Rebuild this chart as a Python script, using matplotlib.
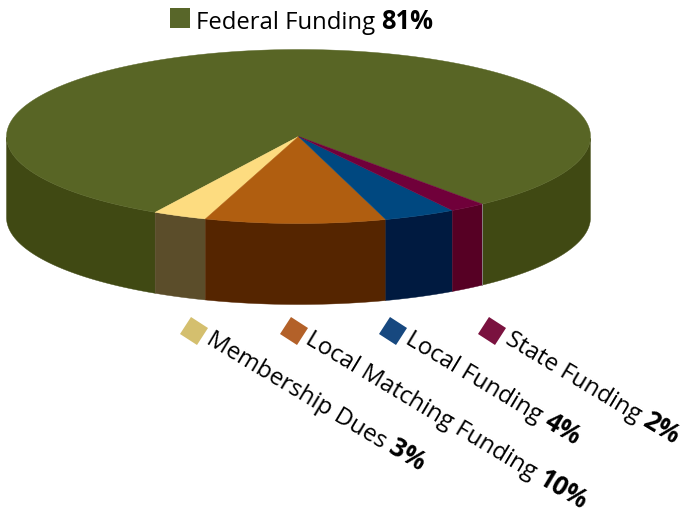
import numpy as np
import matplotlib
matplotlib.use("Agg")
import matplotlib.pyplot as plt
from matplotlib.markers import MarkerStyle
from matplotlib.transforms import Affine2D

plt.rcParams['font.family'] = ['Open Sans', 'DejaVu Sans']

# slices, going counter clockwise from the right hand edge of the federal part
names = ["Federal Funding", "Membership Dues", "Local Matching Funding", "Local Funding", "State Funding"]
shares = [81, 3, 10, 4, 2]
top_colors = ["#586525", "#fddc80", "#b05e10", "#004880", "#70003a"]
side_colors = ["#404913", "#5b4d2a", "#552500", "#001a40", "#560024"]
legend_colors = ["#586629", "#d4bf6e", "#b36129", "#17487f", "#7a123f"]

# pie shape in pixels
cx, cy = 298.5, 136.5
rx, ry = 292, 87
depth = 81
start_angle = -51.0

fig = plt.figure(figsize=(6.82, 5.08), dpi=100)
ax = fig.add_axes([0, 0, 1, 1])
ax.set_xlim(0, 682)
ax.set_ylim(508, 0)
ax.axis("off")


def rim(a, b):
    t = np.radians(np.linspace(a, b, 200))
    return cx + rx * np.cos(t), cy - ry * np.sin(t)


angle = start_angle
for i in range(len(shares)):
    next_angle = angle + shares[i] * 3.6
    x, y = rim(angle, next_angle)

    # side wall, only the front half of the rim shows
    front = np.sin(np.radians(np.linspace(angle, next_angle, 200))) <= 0
    pieces = np.split(np.arange(200), np.where(np.diff(front.astype(int)) != 0)[0] + 1)
    for p in pieces:
        if front[p[0]]:
            wx = np.concatenate([x[p], x[p][::-1]])
            wy = np.concatenate([y[p], y[p][::-1] + depth])
            ax.fill(wx, wy, color=side_colors[i], lw=0.3, zorder=1)

    ax.fill(np.concatenate([[cx], x]), np.concatenate([[cy], y]), color=top_colors[i], lw=0.3, zorder=2)
    angle = next_angle

# thin pale seam where the state wall meets the federal wall
sx, sy = rim(start_angle, start_angle)
ax.plot([sx[0], sx[0]], [sy[0], sy[0] + depth], color="#8f8f8f", lw=0.6, zorder=3)


def label(x, y, name, share, rotation, size):
    # regular name then bold percent along the same baseline
    t = ax.text(x, y, name + " ", fontsize=size, rotation=0, ha="left", va="baseline", color="black")
    w = t.get_window_extent(fig.canvas.get_renderer()).width
    t.set_rotation(rotation)
    t.set_rotation_mode("anchor")
    r = np.radians(rotation)
    ax.text(x + w * np.cos(r), y - w * np.sin(r), str(share) + "%", fontsize=size * 1.07, fontweight="bold",
            rotation=rotation, rotation_mode="anchor", ha="left", va="baseline", color="black")


def swatch(x, y, color, rotation):
    m = MarkerStyle("s", transform=Affine2D().rotate_deg(rotation))
    ax.plot([x], [y], marker=m, ms=14.4, color=color, mew=0, ls="none")


swatch(180, 18, legend_colors[0], 0)
label(196, 29, names[0], shares[0], 0, 17.2)

swatch_x = [194, 294, 393, 492]
label_x = [205, 304, 404, 504]
for i in range(1, 5):
    swatch(swatch_x[i - 1], 331, legend_colors[i], -31)
    label(label_x[i - 1], 343, names[i], shares[i], -31, 17.3)

fig.savefig("out.png", dpi=100)
